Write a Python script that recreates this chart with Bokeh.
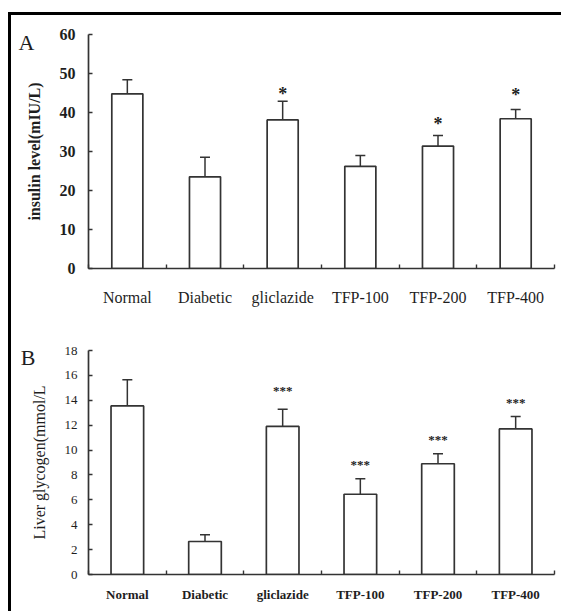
from bokeh.plotting import figure
from bokeh.models import Range1d, FixedTicker, Whisker, TeeHead, ColumnDataSource, LinearAxis
from bokeh.layouts import column
from bokeh.embed import file_html
from bokeh.resources import INLINE
from bokeh.core.properties import value

# ---------------- data ----------------
groups = ["Normal", "Diabetic", "gliclazide", "TFP-100", "TFP-200", "TFP-400"]

insulin_mean = [44.8, 23.5, 38.1, 26.2, 31.4, 38.4]
insulin_err = [3.6, 5.0, 4.8, 2.8, 2.7, 2.4]
insulin_sig_groups = ["gliclazide", "TFP-200", "TFP-400"]
insulin_sig_marks = ["*", "*", "*"]
insulin_sig_y = [45.8, 38.2, 45.6]
insulin_ticks = [0, 10, 20, 30, 40, 50, 60]

glycogen_mean = [13.55, 2.65, 11.9, 6.45, 8.9, 11.7]
glycogen_err = [2.1, 0.55, 1.37, 1.25, 0.8, 1.0]
glycogen_sig_groups = ["gliclazide", "TFP-100", "TFP-200", "TFP-400"]
glycogen_sig_marks = ["***", "***", "***", "***"]
glycogen_sig_y = [15.0, 9.08, 11.1, 14.07]
glycogen_ticks = [0, 2, 4, 6, 8, 10, 12, 14, 16, 18]

FONT = "Liberation Serif"
INK = "#333333"
TXT = "#1e1e1e"
W = 550


def panel(means, errs, sig_groups, sig_marks, sig_y, yticks, ylabel, letter,
          height, cfg):
    n = len(groups)
    xs = list(range(n))
    p = figure(width=W, height=height, output_backend="svg", toolbar_location=None,
               x_range=Range1d(-0.5, n - 0.5), y_range=Range1d(yticks[0], yticks[-1]),
               min_border_left=cfg["left"], min_border_right=cfg["right"],
               min_border_top=cfg["top"], min_border_bottom=cfg["bottom"])
    p.outline_line_color = None
    p.grid.visible = False
    p.background_fill_color = "white"
    p.border_fill_color = "white"

    src = ColumnDataSource(dict(x=xs, top=means,
                                upper=[m + e for m, e in zip(means, errs)],
                                lower=[m - e for m, e in zip(means, errs)]))
    p.vbar(x="x", top="top", bottom=0, width=cfg["bar_w"], source=src,
           fill_color="white", line_color=INK, line_width=1.7)
    wh = Whisker(base="x", upper="upper", lower="lower", source=src, dimension="height",
                 line_color=INK, line_width=1.5,
                 upper_head=TeeHead(size=10, line_color=INK, line_width=1.5),
                 lower_head=TeeHead(size=10, line_color=INK, line_width=1.5))
    p.add_layout(wh)

    sx = [groups.index(g) for g in sig_groups]
    p.text(x=sx, y=sig_y, text=sig_marks, text_align="center", text_baseline="middle",
           text_font=value(FONT), text_font_size=cfg["star_size"],
           text_font_style="bold", text_color=TXT, y_offset=cfg["star_off"])

    # axes
    xa = p.xaxis[0]
    xa.ticker = FixedTicker(ticks=xs, minor_ticks=[i - 0.5 for i in range(n + 1)])
    xa.major_label_overrides = {i: g for i, g in enumerate(groups)}
    xa.major_tick_in = 0
    xa.major_tick_out = 0
    xa.minor_tick_in = 4
    xa.minor_tick_out = 0
    xa.minor_tick_line_color = INK
    xa.minor_tick_line_width = 1.4
    xa.axis_line_color = INK
    xa.axis_line_width = 1.7
    xa.major_label_text_font = FONT
    xa.major_label_text_font_size = cfg["xlab_size"]
    xa.major_label_text_font_style = cfg["xlab_style"]
    xa.major_label_text_color = TXT
    xa.major_label_standoff = cfg["xlab_standoff"]

    ya = p.yaxis[0]
    ya.ticker = FixedTicker(ticks=yticks, minor_ticks=[])
    ya.major_tick_in = 4
    ya.major_tick_out = 0
    ya.major_tick_line_color = INK
    ya.major_tick_line_width = 1.4
    ya.axis_line_color = INK
    ya.axis_line_width = 1.7
    ya.major_label_text_font = FONT
    ya.major_label_text_font_size = cfg["ytick_size"]
    ya.major_label_text_font_style = cfg["ytick_style"]
    ya.major_label_text_color = TXT
    ya.major_label_standoff = cfg["ytick_standoff"]
    ya.axis_label = ylabel
    ya.axis_label_text_font = FONT
    ya.axis_label_text_font_size = cfg["ylab_size"]
    ya.axis_label_text_font_style = cfg["ylab_style"]
    ya.axis_label_text_color = TXT
    ya.axis_label_standoff = cfg["ylab_standoff"]

    # panel letter, drawn as the single tick label of an outer left axis
    la = LinearAxis(ticker=FixedTicker(ticks=[cfg["letter_y"]], minor_ticks=[]),
                    major_label_overrides={cfg["letter_y"]: letter},
                    axis_line_color=None, major_tick_line_color=None,
                    minor_tick_line_color=None,
                    major_label_standoff=cfg["letter_standoff"],
                    major_label_text_font=FONT, major_label_text_font_size="22px",
                    major_label_text_color=TXT)
    p.add_layout(la, "left")
    return p


pA = panel(insulin_mean, insulin_err, insulin_sig_groups, insulin_sig_marks, insulin_sig_y,
           insulin_ticks, "insulin level(mIU/L)", "A", 301,
           dict(left=76, right=7, top=19, bottom=48, bar_w=0.4,
                star_size="18px", star_off=4, xlab_size="16px", xlab_style="normal",
                xlab_standoff=20, ytick_size="16px", ytick_style="bold", ytick_standoff=13,
                ylab_size="16px", ylab_style="bold", ylab_standoff=14,
                letter_y=58.0, letter_standoff=-18))

pB = panel(glycogen_mean, glycogen_err, glycogen_sig_groups, glycogen_sig_marks, glycogen_sig_y,
           glycogen_ticks, "Liver glycogen(mmol/L", "B", 295,
           dict(left=77, right=3, top=34, bottom=37, bar_w=0.42,
                star_size="13px", star_off=3, xlab_size="13px", xlab_style="bold",
                xlab_standoff=12, ytick_size="13px", ytick_style="normal", ytick_standoff=11,
                ylab_size="16px", ylab_style="normal", ylab_standoff=14,
                letter_y=17.4, letter_standoff=-14))

layout = column(pA, pB, spacing=0,
                styles={"margin-left": "8px", "margin-top": "12px",
                        "border-left": "3px solid #000", "border-top": "3px solid #000"})
open("out.html", "w").write(file_html(layout, INLINE))
